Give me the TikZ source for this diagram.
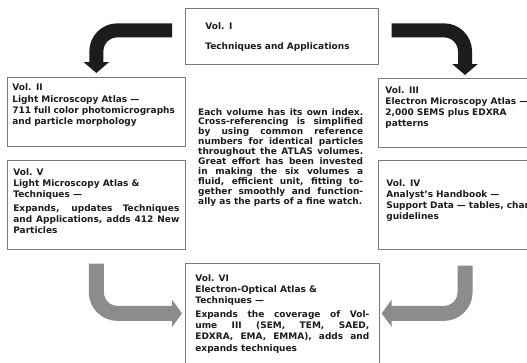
\documentclass[tikz,border=0pt]{standalone}
\usepackage{fontspec}
\setmainfont{DejaVu Sans}
\usetikzlibrary{arrows.meta, positioning, calc}
\definecolor{tinta}{HTML}{1C1C1C}
\definecolor{marco}{HTML}{7A7A7A}
\definecolor{grisflecha}{HTML}{8C8C8C}
\tikzset{
  every picture/.style={font=\bfseries\fontsize{9}{11.2}\selectfont, >=Stealth},
  vol/.style={draw=marco, line width=0.7pt, text=tinta, anchor=north west,
              inner xsep=6pt, inner ysep=0pt, align=left},
  voljust/.style={vol, align=justify},
  nota/.style={text=tinta, anchor=base west, inner sep=0pt, text width=165pt, align=justify,
               font=\bfseries\fontsize{9}{9.9}\selectfont},
  flechanegra/.style={line width=14pt, tinta, rounded corners=21pt, -{Triangle[length=11pt,width=25pt]}},
  flechagris/.style={line width=15pt, grisflecha, rounded corners=21pt, -{Triangle[length=10pt,width=27pt]}},
}

\begin{document}
\begin{tikzpicture}[x=1pt, y=1pt]
  \useasboundingbox (0,0) rectangle (527,-362);
  \node[vol, inner xsep=20pt, text width=153pt, text height=21pt, text depth=35pt] (v1) at (185,-8)
    {Vol. I\\[8.8pt]Techniques and Applications};
  \node[vol, inner xsep=5pt, text width=168pt, text height=13.5pt, text depth=55.5pt] (v2) at (7,-77)
    {Vol. II\\Light Microscopy Atlas —\\711 full color photomicrographs\\and particle morphology};
  \node[vol, inner xsep=7pt, text width=200pt, text height=15pt, text depth=54pt] (v3) at (378,-78)
    {Vol. III\\Electron Microscopy Atlas —\\2,000 SEMS plus EDXRA\\patterns};
  \node[voljust, text width=166pt, text height=15pt, text depth=74pt] (v5) at (7,-160)
    {Vol. V\\Light Microscopy Atlas \&\\Techniques —\\[2.5pt]Expands, updates Techniques\linebreak
     and Applications, adds 412 New\linebreak Particles};
  \node[vol, inner xsep=8pt, text width=200pt, text height=26pt, text depth=63pt] (v4) at (378,-160)
    {Vol. IV\\Analyst's Handbook —\\Support Data — tables, charts,\\guidelines};
  \node[voljust, inner xsep=10pt, text width=174pt, text height=18pt, text depth=82pt] (v6) at (185,-263)
    {Vol. VI\\Electron-Optical Atlas \&\\Techniques —\\[2.5pt]Expands the coverage of Vol-\linebreak
     ume III (SEM, TEM, SAED,\linebreak EDXRA, EMA, EMMA), adds and\linebreak expands techniques};
  \node[nota] (nota) at (198,-115)
    {\parfillskip=0pt Each volume has its own index.\linebreak
     Cross-referencing is simplified\linebreak
     by using common reference\linebreak
     numbers for identical particles\linebreak
     throughout the ATLAS volumes.\linebreak
     Great effort has been invested\linebreak
     in making the six volumes a\linebreak
     fluid, efficient unit, fitting to-\linebreak
     gether smoothly and function-\linebreak
     ally as the parts of a fine watch.};
  % flechas
  \draw[flechanegra] ([shift={(-13pt,6pt)}]v1.west) -| ([yshift=4pt]v2.north);
  \draw[flechanegra] ([shift={(13pt,6pt)}]v1.east) -| ([shift={(87pt,3pt)}]v3.north west);
  \draw[flechagris] ([yshift=-14pt]v5.south) |- ([xshift=-3pt]v6.west);
  \draw[flechagris] ([shift={(87pt,-16pt)}]v4.south west) |- ([xshift=2pt]v6.east);
\end{tikzpicture}
\end{document}
